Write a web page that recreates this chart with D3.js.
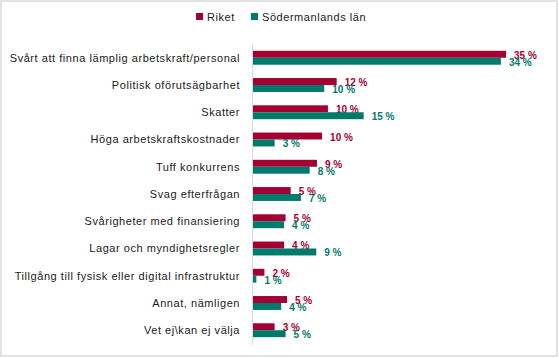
<!DOCTYPE html>
<html><head><meta charset="utf-8">
<script src="https://cdn.jsdelivr.net/npm/d3@7"></script>
<style>body{margin:0;background:#fff}svg{display:block;font-family:"Liberation Sans",Arial,sans-serif}</style>
</head><body><svg id="c" width="559" height="358"></svg>
<script>
const categories = ["Svårt att finna lämplig arbetskraft/personal","Politisk oförutsägbarhet","Skatter","Höga arbetskraftskostnader","Tuff konkurrens","Svag efterfrågan","Svårigheter med finansiering","Lagar och myndighetsregler","Tillgång till fysisk eller digital infrastruktur","Annat, nämligen","Vet ej\\kan ej välja"];
const seriesNames = ["Riket","Södermanlands län"];
const riket = [34.8,11.6,10.4,9.6,8.9,5.3,4.6,4.4,1.7,4.8,3.1];
const sodermanland = [34.1,9.9,15.3,3.1,7.9,6.7,4.4,8.8,0.6,4.0,4.6];
const colors = ["#a50034","#007a6a"];

const svg = d3.select("#c");
svg.append("rect").attr("x",1).attr("y",1).attr("width",556).attr("height",355)
  .attr("fill","#fff").attr("stroke","#d9d9d9").attr("stroke-width",1.5);

const x = d3.scaleLinear().domain([0,40]).range([252,544]);
const y = d3.scaleBand().domain(categories).range([44,344]).paddingInner(0.49).paddingOuter(0.25);
const y1 = d3.scaleBand().domain(seriesNames).range([0,y.bandwidth()]);

// axis line
svg.append("line").attr("x1",252.5).attr("x2",252.5).attr("y1",43).attr("y2",345)
  .attr("stroke","#d9d9d9").attr("stroke-width",1);

// category labels
const yAxis = d3.axisLeft(y).tickSize(0).tickPadding(0);
const ga = svg.append("g").attr("transform","translate(240,0)").call(yAxis);
ga.select(".domain").remove();
ga.selectAll("text").attr("font-size",11).attr("fill","#1a1a1a")
  .attr("letter-spacing","0.55px")
  .attr("font-family","Liberation Sans, Arial, sans-serif").attr("dy","0.35em");

const data = [riket, sodermanland];
data.forEach((vals,si)=>{
  const g = svg.append("g");
  g.selectAll("rect").data(vals).join("rect")
    .attr("x",x(0)+1)
    .attr("y",(d,i)=>y(categories[i])+y1(seriesNames[si]))
    .attr("width",d=>x(d)-x(0)-1)
    .attr("height",y1.bandwidth())
    .attr("fill",colors[si]);
  g.selectAll("text").data(vals).join("text")
    .attr("x",d=>x(d)+8)
    .attr("y",(d,i)=>y(categories[i])+y1(seriesNames[si])+y1.bandwidth()+1)
    .attr("font-size",10).attr("font-weight","bold").attr("fill",colors[si])
    .text(d=>Math.round(d)+" %");
});

// legend
const leg = svg.append("g");
const legX = [196,251];
seriesNames.forEach((n,i)=>{
  leg.append("rect").attr("x",legX[i]).attr("y",13).attr("width",7).attr("height",7).attr("fill",colors[i]);
  leg.append("text").attr("x",legX[i]+11).attr("y",20.5).attr("font-size",11)
    .attr("letter-spacing","0.55px").attr("fill","#1a1a1a").text(n);
});
</script></body></html>
